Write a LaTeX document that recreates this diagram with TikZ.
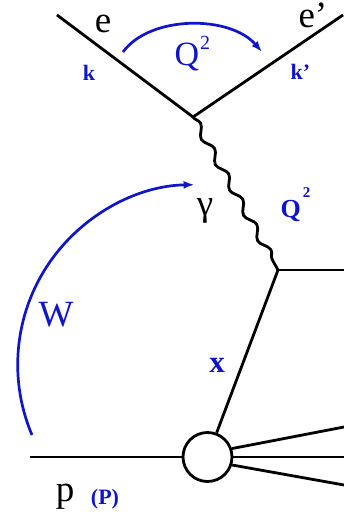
\documentclass[tikz,border=0pt]{standalone}
\usepackage{fontspec}
\setmainfont{Liberation Serif}
\usetikzlibrary{arrows.meta,decorations.pathmorphing}
\definecolor{kinblue}{RGB}{15,20,205}
\tikzset{
  fermion/.style={draw=black, line width=2.8pt},
  photon/.style={
    draw=black,
    line width=2.8pt,
    decorate,
    decoration={snake, amplitude=3.6pt, segment length=29pt}
  },
  kinarrow/.style={draw=kinblue, line width=2.7pt, -{Latex[length=11pt,width=8pt]}},
  blob/.style={circle, draw=black, line width=2.8pt, fill=white, minimum size=49pt, inner sep=0pt},
  partlabel/.style={anchor=base, text=black, font=\fontsize{37}{37}\selectfont},
  kinlabel/.style={anchor=base, text=kinblue, font=\fontsize{22}{22}\selectfont\bfseries}
}

\begin{document}
\begin{tikzpicture}[x=1pt, y=-1pt]
\useasboundingbox (0,0) rectangle (344,518);
% vertices and free ends
\coordinate (ein) at (57,15);
\coordinate (eout) at (343,15);
\coordinate (lepvtx) at (193,117);
\coordinate (hadvtx) at (278,270);
\coordinate (jet) at (344,270);
\coordinate (pin) at (30,457);
\node[blob] (remn) at (207.5,457) {};
\coordinate (remnup) at (344,427);
\coordinate (remnmid) at (344,457);
\coordinate (remnlow) at (344,485);

\draw[fermion] (ein) -- (lepvtx);
\draw[fermion] (lepvtx) -- (eout);
\draw[photon] (lepvtx) -- (hadvtx);
\draw[fermion] (hadvtx) -- (jet);
\draw[fermion] (hadvtx) -- (remn);
\draw[fermion] (pin) -- (remn);
\draw[fermion] (remn.19) -- (remnup);
\draw[fermion] (remn.east) -- (remnmid);
\draw[fermion] (remn.-18) -- (remnlow);

% kinematic arrows
\coordinate (qarcL) at (123,52);
\coordinate (qarcR) at (262,52);
\draw[kinarrow] (qarcL) .. controls (150,15) and (230,15) .. (qarcR);
\coordinate (warcS) at (32,435);
\draw[kinarrow] (warcS) arc[start angle=157, end angle=269, radius=180];

% labels
\node[partlabel] (elab) at (103,33) {e};
\node[partlabel, anchor=base west] (eplab) at (295,28) {e’};
\node[kinlabel] (klab) at (89,81) {k};
\node[kinlabel, anchor=base west] (kplab) at (287,80) {k'};
\node[anchor=base west, text=kinblue, font=\fontsize{34}{34}\selectfont] (qtoplab) at (171,66)
  {Q\kern1pt\raisebox{16pt}{\fontsize{20}{20}\selectfont 2}};
\node[partlabel] (gamlab) at (205,216) {γ};
\node[kinlabel, anchor=base west, font=\fontsize{26}{26}\selectfont\bfseries] (qlab) at (277,218)
  {Q\kern2pt\raisebox{20pt}{\fontsize{15}{15}\selectfont 2}};
\node[partlabel, text=kinblue] (wlab) at (56,326) {W};
\node[kinlabel, font=\fontsize{31}{31}\selectfont\bfseries] (xlab) at (217,372) {x};
\node[partlabel] (plab) at (65,501) {p};
\node[kinlabel] (bigplab) at (105,504) {(P)};
\end{tikzpicture}
\end{document}
